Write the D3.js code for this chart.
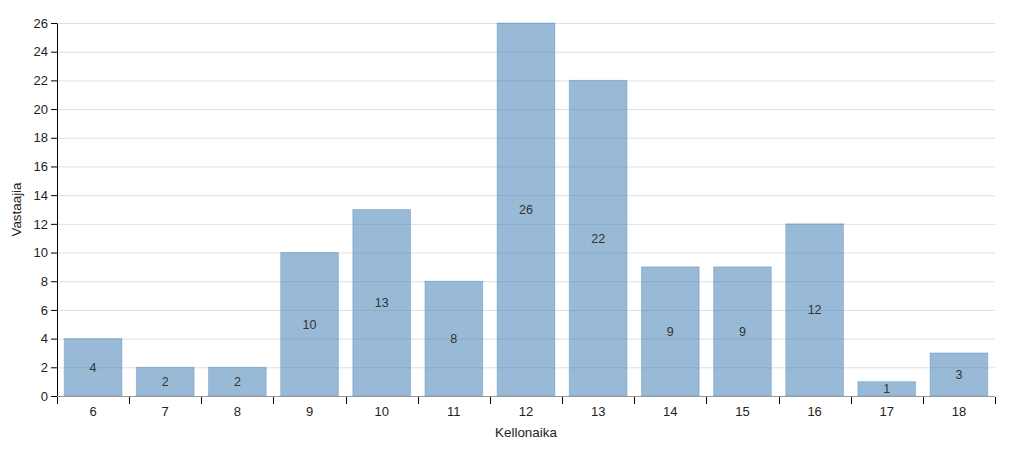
<!DOCTYPE html>
<html><head><meta charset="utf-8">
<script src="https://cdn.jsdelivr.net/npm/d3@7"></script>
<style>body{margin:0;background:#fff;font-family:"Liberation Sans",Arial,sans-serif;}</style>
</head><body><svg id="c" width="1020" height="451"></svg>
<script>
const categories = ["6","7","8","9","10","11","12","13","14","15","16","17","18"];
const values = [4,2,2,10,13,8,26,22,9,9,12,1,3];
const yTicks = [0,2,4,6,8,10,12,14,16,18,20,22,24,26];

const W=1020,H=451,m={l:57,r:25,t:23,b:55};
const svg=d3.select("#c");
const x=d3.scaleBand().domain(categories).range([m.l,W-m.r]).paddingInner(0.2).paddingOuter(0.1);
const xs=d3.scaleBand().domain(categories).range([m.l,W-m.r]);
const y=d3.scaleLinear().domain([0,26]).range([H-m.b,m.t]);

// grid
svg.append("g").selectAll("line").data(yTicks).join("line")
 .attr("x1",m.l).attr("x2",W-m.r).attr("y1",d=>y(d)+0.5).attr("y2",d=>y(d)+0.5)
 .attr("stroke","#e0e0e0").attr("stroke-width",1);

// bars
svg.append("g").selectAll("rect").data(values).join("rect")
 .attr("x",(d,i)=>x(categories[i])).attr("width",x.bandwidth())
 .attr("y",d=>y(d)).attr("height",d=>y(0)-y(d))
 .attr("fill","rgb(70,130,180)").attr("fill-opacity",0.55)
 .attr("stroke","rgb(70,130,180)").attr("stroke-opacity",0.35);

svg.append("g").selectAll("text").data(values).join("text")
 .attr("x",(d,i)=>x(categories[i])+x.bandwidth()/2)
 .attr("y",d=>(y(d)+y(0))/2).attr("dy","0.35em")
 .attr("text-anchor","middle").attr("font-size",12.5).attr("fill","#333")
 .attr("font-family","Liberation Sans, Arial, sans-serif")
 .text(d=>d);

// y axis
const ya=svg.append("g").attr("transform",`translate(${m.l},0)`)
 .call(d3.axisLeft(y).tickValues(yTicks).tickSizeOuter(0));
ya.selectAll("text").attr("font-size",13).attr("fill","#222").attr("font-family","Liberation Sans, Arial, sans-serif");

// x axis
const xa=svg.append("g").attr("transform",`translate(0,${H-m.b})`);
xa.append("line").attr("x1",m.l).attr("x2",W-m.r).attr("y1",0.5).attr("y2",0.5).attr("stroke","#999");
const bounds=categories.map(c=>xs(c)).concat([W-m.r]);
xa.selectAll("line.t").data(bounds).join("line").attr("class","t")
 .attr("x1",d=>Math.round(d)+0.5).attr("x2",d=>Math.round(d)+0.5).attr("y1",1).attr("y2",8).attr("stroke","#000");
xa.selectAll("text").data(categories).join("text")
 .attr("x",c=>xs(c)+xs.bandwidth()/2).attr("y",20).attr("text-anchor","middle")
 .attr("font-size",13).attr("fill","#222").attr("font-family","Liberation Sans, Arial, sans-serif").text(c=>c);

svg.append("text").attr("x",(m.l+W-m.r)/2).attr("y",437).attr("text-anchor","middle")
 .attr("font-size",13.4).attr("fill","#222").text("Kellonaika");
svg.append("text").attr("transform",`translate(21,${(m.t+H-m.b)/2}) rotate(-90)`).attr("text-anchor","middle")
 .attr("font-size",13.4).attr("fill","#222").text("Vastaajia");
</script></body></html>
